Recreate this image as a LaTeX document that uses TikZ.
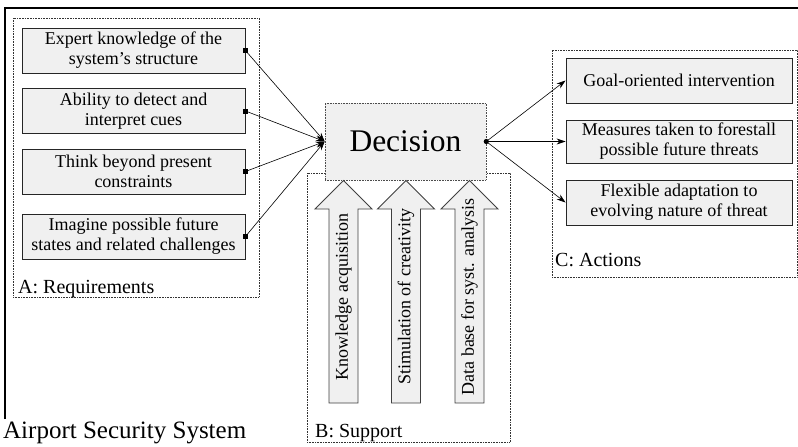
\documentclass[tikz,border=0pt]{standalone}
\usepackage{fontspec}
\setmainfont{Liberation Serif}
\usetikzlibrary{arrows.meta}
\definecolor{boxgray}{HTML}{F0F0F0}
\begin{document}
\begin{tikzpicture}[x=1pt,y=-1pt,
  box/.style={draw=black!85, line width=0.9pt, fill=boxgray, minimum width=223pt, minimum height=45pt, inner sep=0pt, align=center, font=\fontsize{18}{20}\selectfont},
  actbox/.style={box, minimum width=226pt},
  grp/.style={draw=black!80, densely dotted, line width=0.6pt, inner sep=0pt},
  grplabel/.style={anchor=base west, inner sep=0pt, font=\fontsize{20}{22}\selectfont},
  conn/.style={-{Stealth[length=9pt,width=6pt]}, line width=0.6pt},
  bigarrow/.style={draw=black!75, line width=0.9pt, fill=boxgray},
  arrowtext/.style={rotate=90, inner sep=0pt, font=\fontsize{18}{20}\selectfont}
]
\useasboundingbox (0,0) rectangle (798,447);
\clip (0,0) rectangle (798,447);
\fill[white] (0,0) rectangle (798,447);
% outer frame
\draw[line width=1.2pt] (5,419) -- (5,8) -- (820,8);
\node[anchor=base west, inner sep=1pt, font=\fontsize{25}{27}\selectfont] (title) at (2,438) {Airport Security System};

% groups
\node[grp, minimum width=246pt, minimum height=279pt] (A) at (136,157.5) {};
\node[grp, minimum width=203pt, minimum height=269pt] (B) at (408.5,307.5) {};
\node[grp, minimum width=245pt, minimum height=227pt] (C) at (674.5,163.5) {};
\node[grplabel] (Alab) at (18,293) {A: Requirements};
\node[grplabel] (Blab) at (315,437) {B: Support};
\node[grplabel] (Clab) at (555,266) {C: Actions};

% requirement boxes
\node[box] (r1) at (133.5,50.5) {Expert knowledge of the\\system’s structure};
\node[box] (r2) at (133.5,111) {Ability to detect and\\interpret cues};
\node[box] (r3) at (133.5,171.5) {Think beyond present\\constraints};
\node[box] (r4) at (133.5,236.5) {Imagine possible future\\states and related challenges};

% action boxes
\node[actbox] (a1) at (679,80.5) {Goal-oriented intervention};
\node[actbox, minimum height=43pt] (a2) at (679,141.5) {Measures taken to forestall\\possible future threats};
\node[actbox] (a3) at (679,202.5) {Flexible adaptation to\\evolving nature of threat};

% decision
\node[draw=black!70, densely dotted, line width=0.6pt, fill=boxgray, minimum width=161pt, minimum height=77pt, inner sep=0pt, font=\fontsize{31.5}{34}\selectfont] (dec) at (405.5,141.5) {Decision};

% support arrows
\foreach \cx/\t/\n in {343.5/Knowledge acquisition/s1, 406/Stimulation of creativity/s2, 469.5/Data base for syst. analysis/s3}{
  \draw[bigarrow] (\cx,180.5) -- (\cx+28.5,209) -- (\cx+14.5,209) -- (\cx+14.5,403) -- (\cx-14.5,403) -- (\cx-14.5,209) -- (\cx-28.5,209) -- cycle;
  \node[arrowtext] (\n) at (\cx,297) {\t};
}

% connectors
\foreach \r in {r1,r2,r3,r4}{
  \draw[conn] (\r.east) -- (dec.west);
  \fill (\r.east) ++(-2.5,-2.5) rectangle ++(5,5);
}
\foreach \a in {a1,a2,a3}{
  \draw[conn] (dec.east) -- (\a.west);
}
\fill (dec.east) circle (2.6);
\end{tikzpicture}
\end{document}
